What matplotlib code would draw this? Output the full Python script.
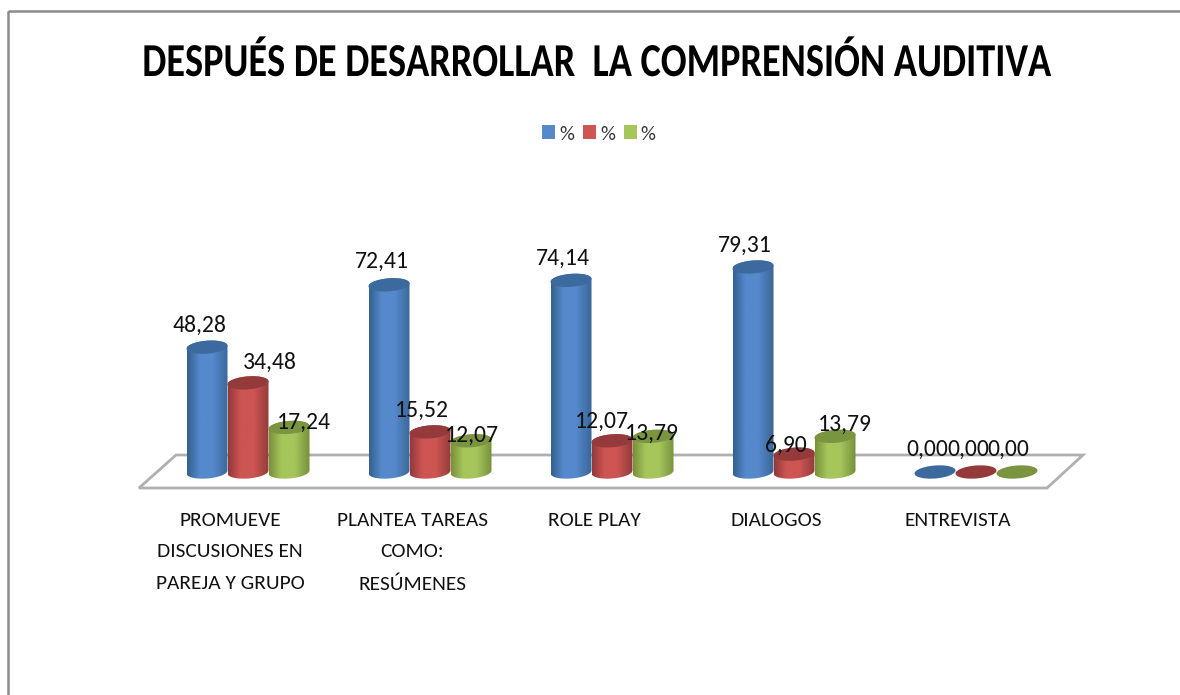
import numpy as np
import matplotlib
matplotlib.use('Agg')
import matplotlib.pyplot as plt
from matplotlib.colors import LinearSegmentedColormap
from matplotlib.patches import Patch, PathPatch, Polygon, Rectangle
from matplotlib.path import Path
from matplotlib.patheffects import AbstractPathEffect
from matplotlib.transforms import Affine2D

plt.rcParams['font.family'] = ['Carlito', 'Lato', 'DejaVu Sans']

categorias = ['PROMUEVE\nDISCUSIONES EN\nPAREJA Y GRUPO', 'PLANTEA TAREAS\nCOMO:\nRESÚMENES',
              'ROLE PLAY', 'DIALOGOS', 'ENTREVISTA']
serie_azul = [48.28, 72.41, 74.14, 79.31, 0.00]
serie_roja = [34.48, 15.52, 12.07, 6.90, 0.00]
serie_verde = [17.24, 12.07, 13.79, 13.79, 0.00]
series = [serie_azul, serie_roja, serie_verde]
nombres = ['%', '%', '%']

# borde, brillo, sombra, tapa
colores = [('#34608f', '#5589cc', '#3a6596', '#3c6a9e'),
           ('#93393a', '#cd5553', '#8e3a38', '#943a3b'),
           ('#789038', '#a6c65c', '#76903c', '#7a9440')]

W, H = 1180, 695
ancho = 41 / 182
alto_px = 2.585
b = 6.5 / alto_px
sesgo = 1.5 / alto_px

# desplazamiento de las etiquetas en px, movidas a mano en el original
desp_x = [[-7, -7, -8, -8, -8],
          [22, -8, -10, -8, -8],
          [15, 1, -1, 10, -9]]
desp_y = [[22, 23, 22, 22, 23],
          [21, 22, 19, 9, 23],
          [5, 5, 3, 12, 23]]


class Estrechar(AbstractPathEffect):
    # el titulo original es mas estrecho que la fuente
    def __init__(self, factor, cx):
        super().__init__()
        self.factor = factor
        self.cx = cx

    def draw_path(self, renderer, gc, tpath, affine, rgbFace=None):
        t = affine + Affine2D().translate(-self.cx, 0).scale(self.factor, 1).translate(self.cx, 0)
        renderer.draw_path(gc, tpath, t, rgbFace)


fig = plt.figure(figsize=(W / 100, H / 100), dpi=100)
fondo = fig.add_axes([0, 0, 1, 1])
fondo.set_xlim(0, W)
fondo.set_ylim(H, 0)
fondo.axis('off')
fondo.add_patch(Rectangle((8, 11), 1300, 900, fill=False, ec='#8c8c8c', lw=1.8))
fondo.add_patch(Polygon([(139, 488), (176, 455), (1083, 455), (1047, 488)], closed=True,
                        fill=True, fc='white', ec='#b0b0b0', lw=2))

# eje: x en categorias, y en valores; baseline en y=472 px
izq, der = 157, 1067
y_top = 472 - 100 * alto_px
ax = fig.add_axes([izq / W, 1 - 472 / H, (der - izq) / W, (472 - y_top) / H])
ax.patch.set_alpha(0)
ax.set_xlim(-0.5, 4.5)
ax.set_ylim(0, 100)
ax.axis('off')


def elipse(cx, cy, t):
    return cx + ancho / 2 * np.cos(t), cy + b * np.sin(t) + sesgo * np.cos(t)


for s, valores in enumerate(series):
    borde, brillo, sombra, tapa = colores[s]
    cmap = LinearSegmentedColormap.from_list('c', [(0, borde), (0.3, brillo), (0.62, brillo), (1, sombra)])
    grad = np.linspace(0, 1, 128).reshape(1, -1)
    for i, v in enumerate(valores):
        cx = i + (s - 1) * ancho
        xa, ya = elipse(cx, 0, np.linspace(np.pi, 2 * np.pi, 40))
        xt, yt = elipse(cx, v, np.linspace(0, np.pi, 40))
        verts = np.column_stack([np.r_[xa, xt], np.r_[ya, yt]])
        cuerpo = Path(np.vstack([verts, verts[0]]), closed=True)
        if v > 0:
            img = ax.imshow(grad, cmap=cmap, extent=[cx - ancho / 2, cx + ancho / 2, -b * 2, v + b * 2],
                            aspect='auto', zorder=2 + s * 0.1 + 0.01)
            img.set_clip_path(PathPatch(cuerpo, transform=ax.transData))
            img.set_clip_box(fig.bbox)
        xe, ye = elipse(cx, v, np.linspace(0, 2 * np.pi, 80))
        ax.fill(xe, ye, color=tapa, zorder=2 + s * 0.1 + 0.02, clip_on=False, lw=0)
        ax.annotate(f'{v:.2f}'.replace('.', ','), (cx, v), xytext=(desp_x[s][i] * 0.72, desp_y[s][i] * 0.72),
                    textcoords='offset points', ha='center', va='center', fontsize=17,
                    color='#111111', zorder=5)

ax.set_xlim(-0.5, 4.5)
ax.set_ylim(0, 100)

for i, cat in enumerate(categorias):
    ax.annotate(cat, (i, 0), xytext=(-18 * 0.72, -40 * 0.72), textcoords='offset points', ha='center',
                va='top', fontsize=15.4, linespacing=2.02, color='#111111')

fig.text(597 / W, 1 - 63 / H, 'DESPUÉS DE DESARROLLAR  LA COMPRENSIÓN AUDITIVA', ha='center', va='center',
         fontsize=34, fontweight='bold', color='black', path_effects=[Estrechar(0.81, 597)])

handles = [Patch(fc=colores[k][1], ec='none') for k in range(3)]
fig.legend(handles, nombres, ncol=3, frameon=False, loc='center', bbox_to_anchor=(599 / W, 1 - 134 / H),
           fontsize=15, handlelength=0.6, handleheight=0.67, handletextpad=0.2, columnspacing=0.45,
           labelcolor='#333333')

fig.savefig('out.png', dpi=100)
